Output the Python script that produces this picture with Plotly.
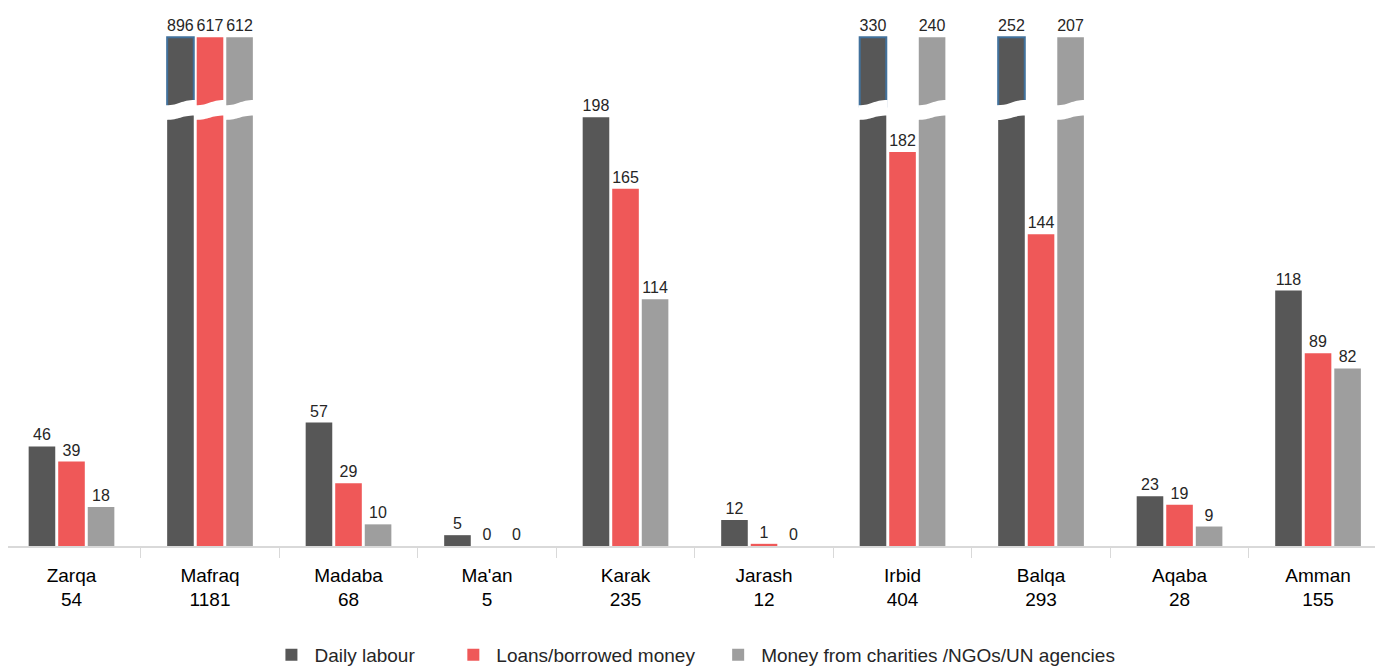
import plotly.graph_objects as go

regions = ["Zarqa", "Mafraq", "Madaba", "Ma'an", "Karak", "Jarash", "Irbid", "Balqa", "Aqaba", "Amman"]
totals = [54, 1181, 68, 5, 235, 12, 404, 293, 28, 155]
daily_labour = [46, 896, 57, 5, 198, 12, 330, 252, 23, 118]
loans = [39, 617, 29, 0, 165, 1, 182, 144, 19, 89]
charities = [18, 612, 10, 0, 114, 0, 240, 207, 9, 82]

series = [
    ("Daily labour", daily_labour, "#575757", "#41719C"),
    ("Loans/borrowed money", loans, "#EF5858", None),
    ("Money from charities /NGOs/UN agencies", charities, "#9E9E9E", None),
]

# axis-break settings (display only)
BREAK_AT = 200      # values above this are shown with a broken bar
BREAK_LO = 199      # top of lower segment
BREAK_HI = 203      # bottom of upper segment
CAP = 235           # top of broken bars
Y_MAX = 236
X_RANGE = [-0.4585, 9.469]

BARGAP = 0.36
BARGROUPGAP = 0.1

FONT = "Liberation Sans Narrow, Arial Narrow, Liberation Sans, Arial"
VAL_SIZE = 16
xlabels = [f"{r}<br>{t}" for r, t in zip(regions, totals)]

legend_x = [0.1894, 0.3217, 0.5143]
legend_names = ["legend", "legend2", "legend3"]

fig = go.Figure()
n_series = len(series)
slot = (1 - BARGAP) / n_series
bar_w = slot * (1 - BARGROUPGAP)
shapes = []
for i, (name, vals, color, outline) in enumerate(series):
    lower = [BREAK_LO if v > BREAK_AT else v for v in vals]
    lower_text = ["" if v > BREAK_AT else str(v) for v in vals]
    fig.add_trace(go.Bar(
        x=xlabels, y=lower, name=name, offsetgroup=str(i), legendgroup=str(i),
        legend=legend_names[i],
        marker=dict(color=color, line=dict(width=0)),
        text=lower_text, textposition="outside", cliponaxis=False, constraintext="none",
        textfont=dict(family=FONT, size=VAL_SIZE, color="#262626"),
        hoverinfo="skip",
    ))
    upper = [CAP - BREAK_HI if v > BREAK_AT else None for v in vals]
    upper_base = [BREAK_HI if v > BREAK_AT else None for v in vals]
    upper_text = [str(v) if v > BREAK_AT else "" for v in vals]
    fig.add_trace(go.Bar(
        x=xlabels, y=upper, base=upper_base, name=name, offsetgroup=str(i),
        legendgroup=str(i), showlegend=False, legend=legend_names[i],
        marker=dict(color=color, line=dict(width=2 if outline else 0, color=outline or color)),
        text=upper_text, textposition="outside", cliponaxis=False, constraintext="none",
        textfont=dict(family=FONT, size=VAL_SIZE, color="#262626"),
        hoverinfo="skip",
    ))
    # wavy white band marking the axis break
    for j, v in enumerate(vals):
        if v > BREAK_AT:
            c = j + (i - (n_series - 1) / 2) * slot
            xl = c - bar_w / 2 - 0.01
            xr = c + bar_w / 2 + 0.01
            xm = (xl + xr) / 2
            yb_l, yb_r = 196.8, 198.8
            yt_l, yt_r = 203.6, 206.0
            path = (f"M {xl},{yb_l} C {xm},{yb_l} {xm},{yb_r} {xr},{yb_r} "
                    f"L {xr},{yt_r} C {xm},{yt_r} {xm},{yt_l} {xl},{yt_l} Z")
            shapes.append(dict(type="path", xref="x", yref="y", path=path,
                               fillcolor="white", line=dict(width=0), layer="above"))

legend_common = dict(orientation="h", xanchor="left", y=-0.213, yanchor="middle",
                     font=dict(family=FONT, size=19, color="#262626"),
                     bgcolor="rgba(0,0,0,0)", itemwidth=36)
fig.update_layout(
    width=1375, height=663,
    barmode="group", bargap=BARGAP, bargroupgap=BARGROUPGAP,
    margin=dict(l=0, r=0, t=27, b=125, autoexpand=False),
    plot_bgcolor="white", paper_bgcolor="white",
    font=dict(family=FONT, size=19, color="#262626"),
    legend=dict(x=legend_x[0], **legend_common),
    legend2=dict(x=legend_x[1], **legend_common),
    legend3=dict(x=legend_x[2], **legend_common),
    shapes=shapes,
    xaxis=dict(range=X_RANGE, showline=True, linecolor="#D9D9D9", linewidth=1.5,
               tickson="boundaries", ticks="outside", ticklen=10, tickcolor="#D9D9D9",
               showgrid=False, ticklabelstandoff=11,
               tickfont=dict(family=FONT, size=19, color="#000000")),
    yaxis=dict(range=[0, Y_MAX], visible=False, showgrid=False),
)

fig.write_html("out.html")
